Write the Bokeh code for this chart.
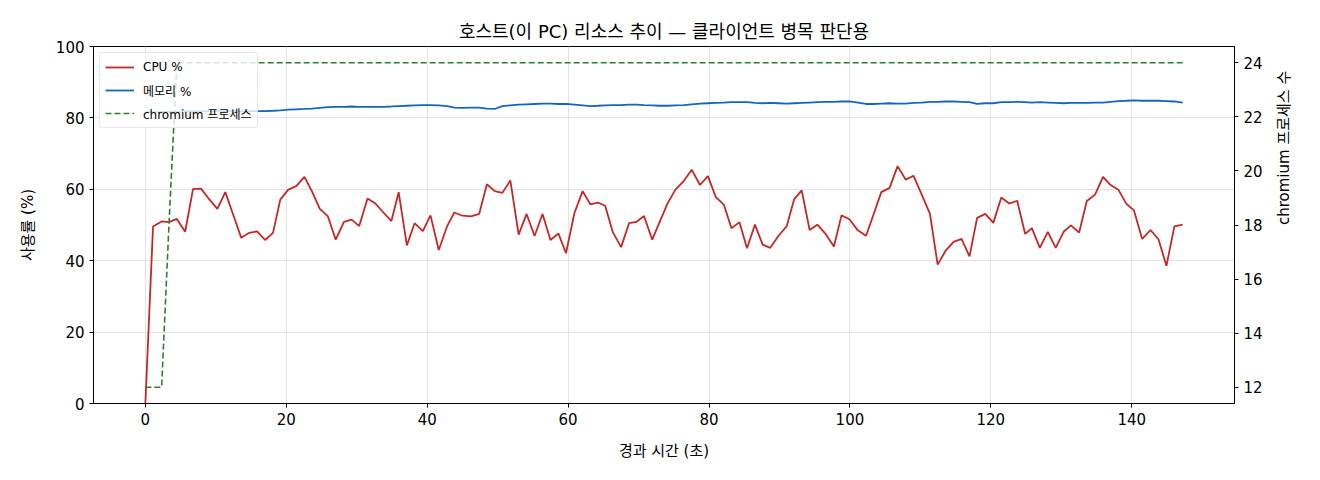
import math

from bokeh.embed import file_html
from bokeh.models import FixedTicker, LinearAxis, Range1d
from bokeh.plotting import figure
from bokeh.resources import INLINE

FONT = "'DejaVu Sans', 'Noto Sans CJK KR'"

# elapsed time of each sample (s)
time_s = [
    0.0, 1.09, 2.31, 3.35, 4.47, 5.65, 6.77, 7.90, 9.03, 10.22,
    11.35, 12.48, 13.61, 14.74, 15.86, 16.99, 18.12, 19.15, 20.28, 21.41,
    22.58, 23.63, 24.76, 25.89, 27.01, 28.19, 29.27, 30.35, 31.53, 32.66,
    33.79, 34.92, 35.95, 37.12, 38.21, 39.38, 40.47, 41.64, 42.82, 43.85,
    45.02, 46.21, 47.38, 48.47, 49.60, 50.67, 51.80, 52.98, 54.11, 55.24,
    56.37, 57.50, 58.63, 59.70, 60.89, 62.06, 63.15, 64.22, 65.26, 66.34,
    67.52, 68.65, 69.72, 70.77, 71.94, 73.03, 74.10, 75.23, 76.41, 77.54,
    78.72, 79.84, 80.97, 82.10, 83.19, 84.32, 85.39, 86.52, 87.61, 88.69,
    89.87, 91.04, 92.08, 93.15, 94.28, 95.37, 96.54, 97.73, 98.80, 99.93,
    101.12, 102.29, 103.37, 104.45, 105.63, 106.76, 107.93, 109.02, 110.19, 111.36,
    112.45, 113.58, 114.71, 115.84, 116.97, 118.05, 119.22, 120.35, 121.48, 122.61,
    123.74, 124.87, 125.82, 126.95, 128.08, 129.20, 130.33, 131.36, 132.53, 133.62,
    134.79, 135.92, 137.00, 138.09, 139.22, 140.30, 141.48, 142.66, 143.79, 144.92,
    146.05, 147.22,
]

cpu_pct = [
    0.0, 49.6, 51.0, 50.8, 51.7, 48.1, 60.1, 60.2, 57.3, 54.5,
    59.2, 52.8, 46.4, 47.8, 48.2, 45.8, 47.8, 57.1, 59.9, 60.9,
    63.5, 59.5, 54.5, 52.5, 45.9, 50.9, 51.5, 49.7, 57.4, 56.0,
    53.5, 51.1, 59.2, 44.3, 50.5, 48.3, 52.7, 43.0, 49.6, 53.5,
    52.6, 52.4, 53.1, 61.4, 59.5, 59.0, 62.5, 47.3, 53.1, 46.9,
    53.1, 45.8, 47.6, 42.1, 53.3, 59.5, 55.8, 56.3, 55.4, 48.0,
    43.8, 50.5, 50.9, 52.5, 45.9, 51.0, 56.0, 59.9, 62.3, 65.5,
    61.2, 63.7, 57.8, 55.7, 49.1, 50.8, 43.5, 50.1, 44.5, 43.6,
    47.0, 49.7, 57.2, 59.7, 48.6, 50.1, 47.5, 44.0, 52.7, 51.6,
    48.5, 47.0, 53.1, 59.2, 60.4, 66.5, 62.7, 63.8, 58.5, 53.1,
    38.9, 42.8, 45.3, 46.1, 41.2, 52.0, 53.1, 50.6, 57.7, 56.0,
    56.8, 47.5, 49.1, 43.6, 48.1, 43.6, 48.1, 49.9, 47.9, 56.7,
    58.5, 63.5, 61.2, 59.9, 56.0, 54.1, 46.1, 48.6, 46.0, 38.6,
    49.6, 50.1,
]

mem_pct = [
    81.6, 81.6, 81.7, 81.7, 81.7, 81.8, 81.8, 81.8, 81.8, 81.9,
    81.9, 81.9, 81.8, 81.9, 81.9, 81.9, 82.0, 82.1, 82.3, 82.4,
    82.5, 82.6, 82.8, 83.0, 83.1, 83.1, 83.2, 83.1, 83.1, 83.1,
    83.1, 83.2, 83.3, 83.4, 83.5, 83.6, 83.6, 83.5, 83.3, 82.9,
    82.8, 82.9, 82.9, 82.6, 82.5, 83.3, 83.5, 83.7, 83.8, 83.9,
    84.0, 84.0, 83.9, 83.9, 83.7, 83.5, 83.3, 83.4, 83.5, 83.6,
    83.6, 83.7, 83.7, 83.6, 83.5, 83.4, 83.4, 83.5, 83.6, 83.8,
    84.0, 84.1, 84.2, 84.3, 84.4, 84.4, 84.4, 84.2, 84.1, 84.2,
    84.1, 84.0, 84.1, 84.2, 84.3, 84.4, 84.5, 84.5, 84.6, 84.6,
    84.3, 83.9, 83.9, 84.0, 84.1, 84.0, 84.0, 84.2, 84.3, 84.5,
    84.5, 84.6, 84.6, 84.5, 84.4, 83.9, 84.1, 84.1, 84.4, 84.4,
    84.5, 84.4, 84.3, 84.4, 84.3, 84.2, 84.1, 84.2, 84.2, 84.2,
    84.3, 84.3, 84.5, 84.7, 84.8, 84.9, 84.8, 84.8, 84.8, 84.7,
    84.6, 84.3,
]

chromium_procs = [
    12, 12, 12, 18, 24, 24, 24, 24, 24, 24,
    24, 24, 24, 24, 24, 24, 24, 24, 24, 24,
    24, 24, 24, 24, 24, 24, 24, 24, 24, 24,
    24, 24, 24, 24, 24, 24, 24, 24, 24, 24,
    24, 24, 24, 24, 24, 24, 24, 24, 24, 24,
    24, 24, 24, 24, 24, 24, 24, 24, 24, 24,
    24, 24, 24, 24, 24, 24, 24, 24, 24, 24,
    24, 24, 24, 24, 24, 24, 24, 24, 24, 24,
    24, 24, 24, 24, 24, 24, 24, 24, 24, 24,
    24, 24, 24, 24, 24, 24, 24, 24, 24, 24,
    24, 24, 24, 24, 24, 24, 24, 24, 24, 24,
    24, 24, 24, 24, 24, 24, 24, 24, 24, 24,
    24, 24, 24, 24, 24, 24, 24, 24, 24, 24,
    24, 24,
]

x_ticks = [0, 20, 40, 60, 80, 100, 120, 140]
pct_ticks = [0, 20, 40, 60, 80, 100]
proc_ticks = [12, 14, 16, 18, 20, 22, 24]

p = figure(
    width=1304, height=464,
    x_range=Range1d(-7.36, 154.58), y_range=Range1d(0, 100),
    title="호스트(이 PC) 리소스 추이 — 클라이언트 병목 판단용",
    output_backend="svg", toolbar_location=None,
    min_border_left=93, min_border_right=64,
    min_border_top=46, min_border_bottom=61,
)
p.extra_y_ranges = {"proc": Range1d(11.4, 24.6)}

p.title.align = "center"
p.title.text_font = FONT
p.title.text_font_size = "18px"
p.title.text_font_style = "normal"
p.title.text_color = "black"
p.title.standoff = 10

p.outline_line_color = "black"
p.outline_line_width = 1
p.outline_line_alpha = 1

right = LinearAxis(y_range_name="proc", axis_label="chromium 프로세스 수")
p.add_layout(right, "right")
right.axis_label_orientation = math.pi / 2

p.xaxis.ticker = FixedTicker(ticks=x_ticks)
p.yaxis[0].ticker = FixedTicker(ticks=pct_ticks)
right.ticker = FixedTicker(ticks=proc_ticks)
p.xaxis.axis_label = "경과 시간 (초)"
p.yaxis[0].axis_label = "사용률 (%)"

for ax in p.xaxis + p.yaxis:
    ax.major_label_text_font = FONT
    ax.major_label_text_font_size = "15px"
    ax.major_label_text_color = "black"
    ax.axis_label_text_font = FONT
    ax.axis_label_text_font_size = "15px"
    ax.axis_label_text_font_style = "normal"
    ax.axis_label_text_color = "black"
    ax.axis_line_color = "black"
    ax.major_tick_line_color = "black"
    ax.major_tick_in = 0
    ax.major_tick_out = 4
    ax.minor_tick_line_color = None
    ax.major_label_standoff = 5

p.xaxis.axis_label_standoff = 14
p.yaxis[0].axis_label_standoff = 16
right.axis_label_standoff = 18

p.xgrid.ticker = FixedTicker(ticks=x_ticks)
p.ygrid.ticker = FixedTicker(ticks=pct_ticks)
p.grid.grid_line_color = "#e3e3e3"
p.grid.grid_line_width = 1

p.line(time_s, cpu_pct, color="#c62828", line_width=1.8, legend_label="CPU %")
p.line(time_s, mem_pct, color="#1565c0", line_width=1.8, legend_label="메모리 %")
p.line(time_s, chromium_procs, y_range_name="proc", color="#2e7d32",
       line_width=1.6, line_dash="6 3", legend_label="chromium 프로세스")

p.legend.location = "top_left"
p.legend.margin = 6
p.legend.padding = 5
p.legend.spacing = 5
p.legend.glyph_width = 29
p.legend.glyph_height = 18
p.legend.label_height = 18
p.legend.label_standoff = 9
p.legend.label_text_font = FONT
p.legend.label_text_font_size = "12px"
p.legend.label_text_color = "black"
p.legend.border_line_color = "#d0d0d0"
p.legend.border_radius = 3
p.legend.background_fill_alpha = 0.8

open("out.html", "w").write(file_html(p, INLINE))
